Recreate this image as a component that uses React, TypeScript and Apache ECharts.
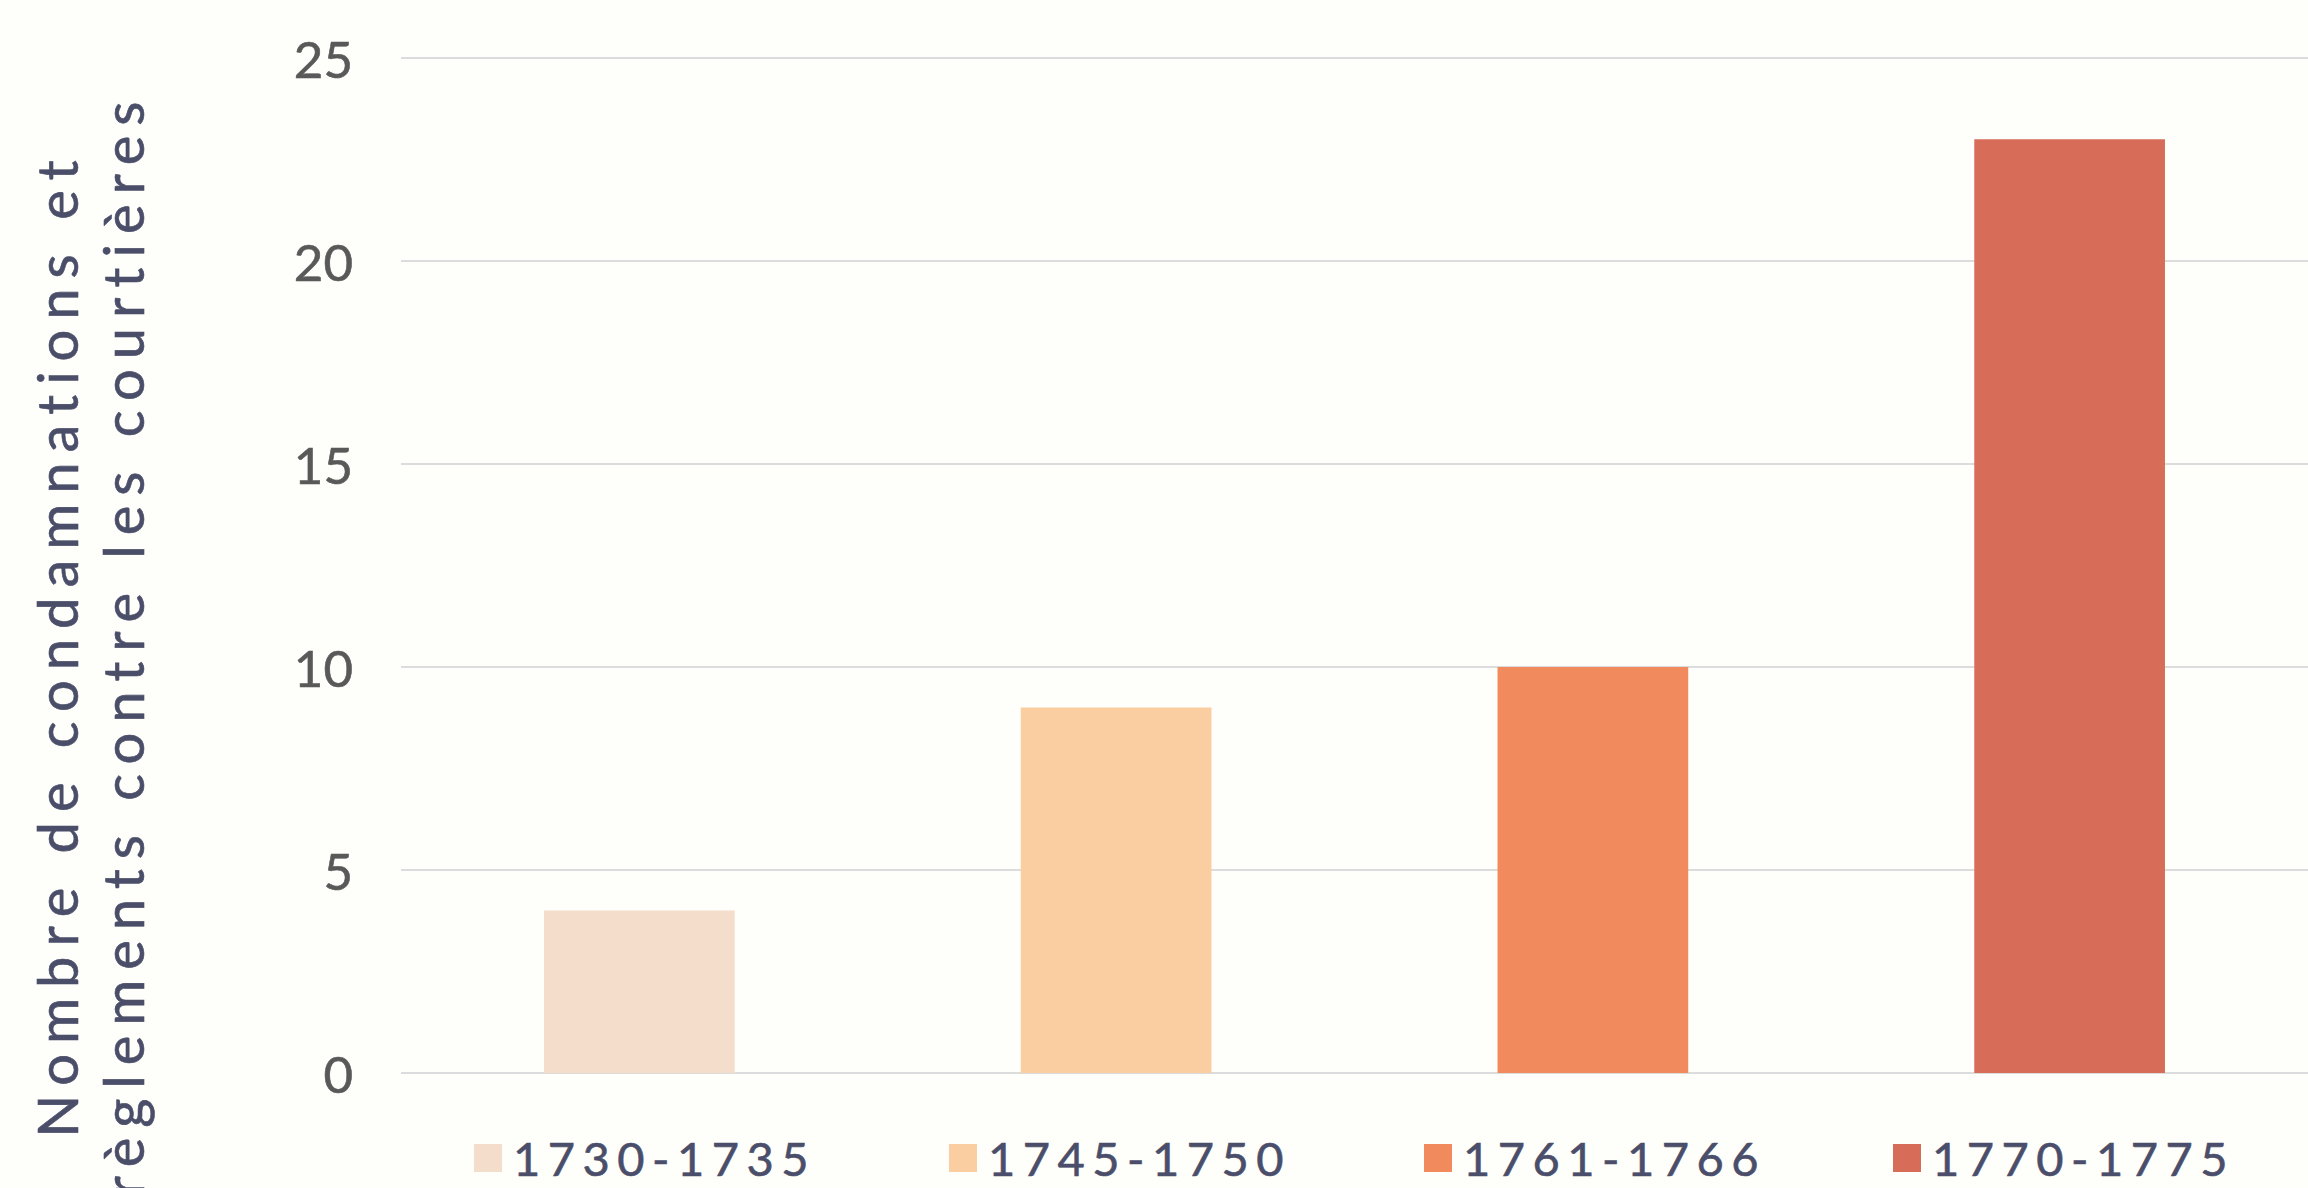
import React, { useEffect, useRef } from "react";
import * as echarts from "echarts";

const categories = ["1730-1735", "1745-1750", "1761-1766", "1770-1775"];
const values = [4, 9, 10, 23];
const colors = ["#f5ddcc", "#facea0", "#f18b5e", "#d76c58"];
const yTicks = { min: 0, max: 25, interval: 5 };
const axisTitle = "Nombre de condamnations et\nrèglements contre les courtières";
const legendLefts = [474, 949, 1424, 1893];

const TEXT_COLOR = "#4a4e69";
const LEGEND_COLOR = "#4a4e6a";
const LABEL_COLOR = "#595959";

export default function App() {
  const ref = useRef<HTMLDivElement>(null);
  useEffect(() => {
    document.body.style.margin = "0";
    const chart = echarts.init(ref.current!, null, { renderer: "svg" });
    const series = categories.map((name, i) => ({
      name,
      type: "bar",
      stack: "all",
      barWidth: "40%",
      itemStyle: { color: colors[i] },
      data: categories.map((_, j) => (j === i ? values[i] : "-")),
    }));
    const legends = categories.map((name, i) => ({
      data: [name],
      left: legendLefts[i],
      top: 1130,
      itemWidth: 28,
      itemHeight: 28,
      icon: "rect",
      padding: 0,
      selectedMode: false,
      textStyle: {
        color: LEGEND_COLOR,
        fontSize: 47,
        fontFamily: "Lato",
        lineHeight: 56,
        padding: [0, 0, 0, 6],
        textBorderColor: LEGEND_COLOR,
        textBorderWidth: 0.6,
      },
    }));
    chart.setOption({
      animation: false,
      backgroundColor: "#fefefa",
      grid: { left: 401, right: 0, top: 58, bottom: 115 },
      legend: legends,
      xAxis: {
        type: "category",
        data: categories,
        axisLine: { show: false },
        axisTick: { show: false },
        axisLabel: { show: false },
      },
      yAxis: {
        type: "value",
        min: yTicks.min,
        max: yTicks.max,
        interval: yTicks.interval,
        axisLine: { show: false },
        axisTick: { show: false },
        axisLabel: {
          color: LABEL_COLOR,
          fontSize: 51,
          fontFamily: "Lato",
          margin: 48,
          textBorderColor: LABEL_COLOR,
          textBorderWidth: 0.6,
        },
        splitLine: { lineStyle: { color: "#dcdcdc", width: 2 } },
      },
      graphic: [
        {
          type: "text",
          x: 89,
          y: 644,
          rotation: Math.PI / 2,
          style: {
            text: axisTitle,
            fill: TEXT_COLOR,
            stroke: TEXT_COLOR,
            lineWidth: 0.6,
            fontSize: 56,
            fontFamily: "Lato",
            lineHeight: 66,
            align: "center",
            verticalAlign: "middle",
          },
        },
      ],
      series,
    });
    return () => chart.dispose();
  }, []);
  return (
    <>
      <style>{`svg text[fill="${TEXT_COLOR}"] { letter-spacing: 10px; } svg text[fill="${LEGEND_COLOR}"] { letter-spacing: 7.5px; }`}</style>
      <div
        ref={ref}
        style={{ position: "fixed", left: 0, top: 0, width: 2308, height: 1188 }}
      />
    </>
  );
}
